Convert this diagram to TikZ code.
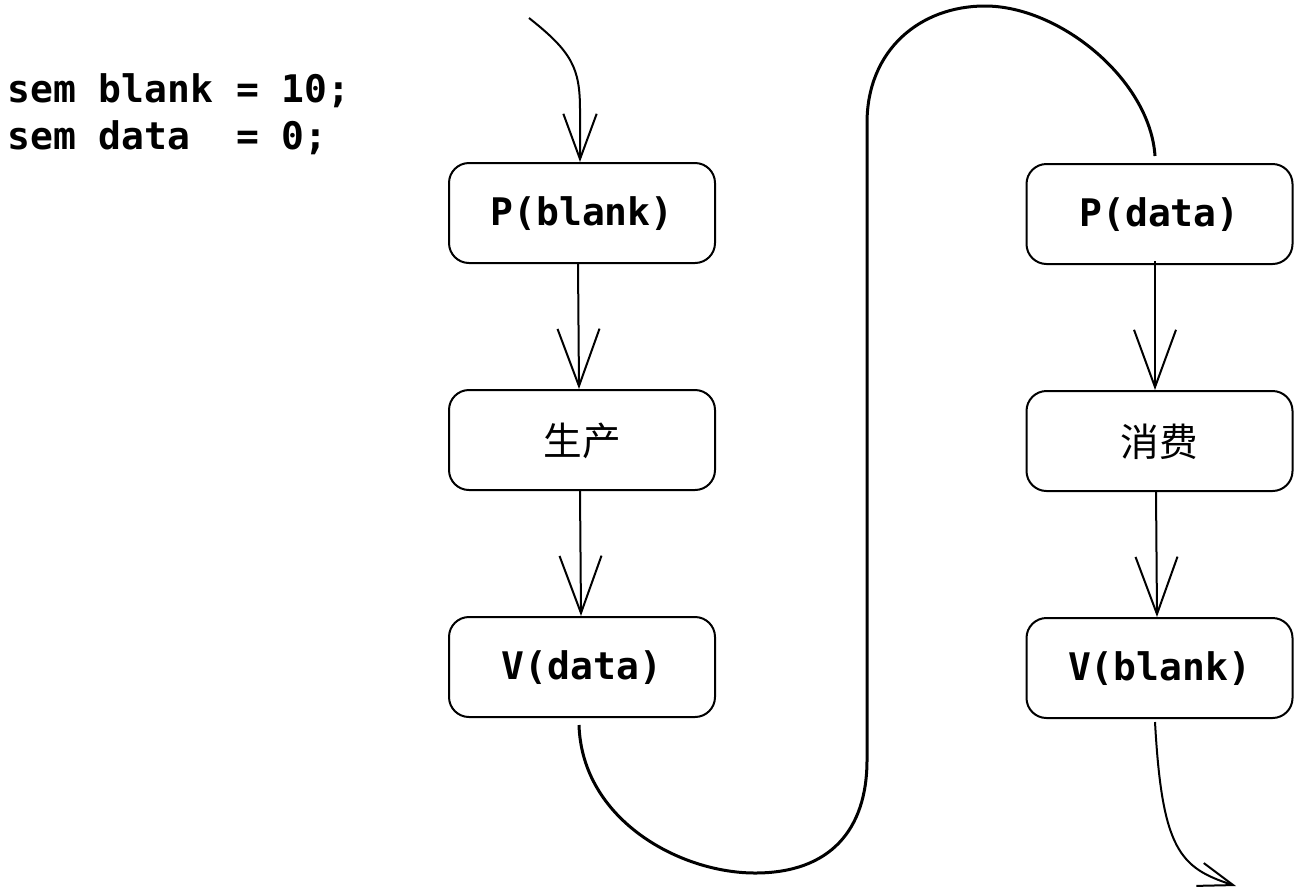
\documentclass[tikz,border=0pt]{standalone}
\usepackage{fontspec}
\setmonofont{DejaVu Sans Mono}
\newfontfamily\cjk{Noto Sans CJK SC}
\usetikzlibrary{arrows.meta,calc}
\begin{document}
\begin{tikzpicture}[x=0.75pt,y=-0.75pt,
  box/.style={draw, line width=1.5pt, rounded corners=15pt, minimum width=199.5pt,
    minimum height=75pt, inner sep=0pt, text depth=3pt, font=\ttfamily\bfseries\fontsize{28.5}{30}\selectfont},
  cjkbox/.style={box, text depth=1pt, font=\cjk\fontsize{29}{30}\selectfont},
  code/.style={anchor=base west, inner sep=0pt, font=\ttfamily\bfseries\fontsize{28.5}{30}\selectfont},
  conn/.style={line width=1.5pt},
  bigtip/.style={-{Straight Barb[length=43pt,width=31.5pt,line width=1.5pt]}},
  curve/.style={line width=2.25pt}
]
\useasboundingbox (0,0) rectangle (1301,893);

\node[code] (l1) at (7,102) {sem blank = 10;};
\node[code] (l2) at (7,149) {sem data\ \ = 0;};

\node[box] (pb) at (582,213) {P(blank)};
\node[cjkbox] (prod) at (582,440) {生产};
\node[box] (vd) at (582,667) {V(data)};

\node[box] (pd) at (1159.5,214) {P(data)};
\node[cjkbox] (cons) at (1159.5,441) {消费};
\node[box] (vb) at (1159.5,668) {V(blank)};

\coordinate (start) at (529,18);
\coordinate (endpt) at (1236,886);

% entry arrow
\draw[conn, -{Straight Barb[length=34pt,width=25pt,line width=1.5pt]}]
  (start) .. controls (572,52) and (580,68) .. (580,110) -- ($(pb.north)+(-2,0)$);

\draw[conn, bigtip] ($(pb.south)+(-4,0)$) -- ($(prod.north)+(-3,0)$);
\draw[conn, bigtip] ($(prod.south)+(-2,0)$) -- ($(vd.north)+(-1,0)$);

% big connecting curve
\draw[curve] ($(vd.south)+(-3,7)$) .. controls (582,820) and (680,873) .. (755,873)
  .. controls (830,873) and (867,830) .. (867,760) -- (867,123)
  .. controls (867,50) and (920,6) .. (985,6)
  .. controls (1060,6) and (1150,80) .. ($(pd.north)+(-4.5,-7)$);

\draw[conn, bigtip] ($(pd.south)+(-4.5,-4)$) -- ($(cons.north)+(-4.5,0)$);
\draw[conn, bigtip] ($(cons.south)+(-3.5,0)$) -- ($(vb.north)+(-2.5,0)$);

% exit arrow
\draw[conn, -{Straight Barb[length=26pt,width=18pt,line width=1.5pt]}]
  ($(vb.south)+(-4.5,3)$) .. controls (1162,850) and (1180,868) .. (endpt);
\end{tikzpicture}
\end{document}
